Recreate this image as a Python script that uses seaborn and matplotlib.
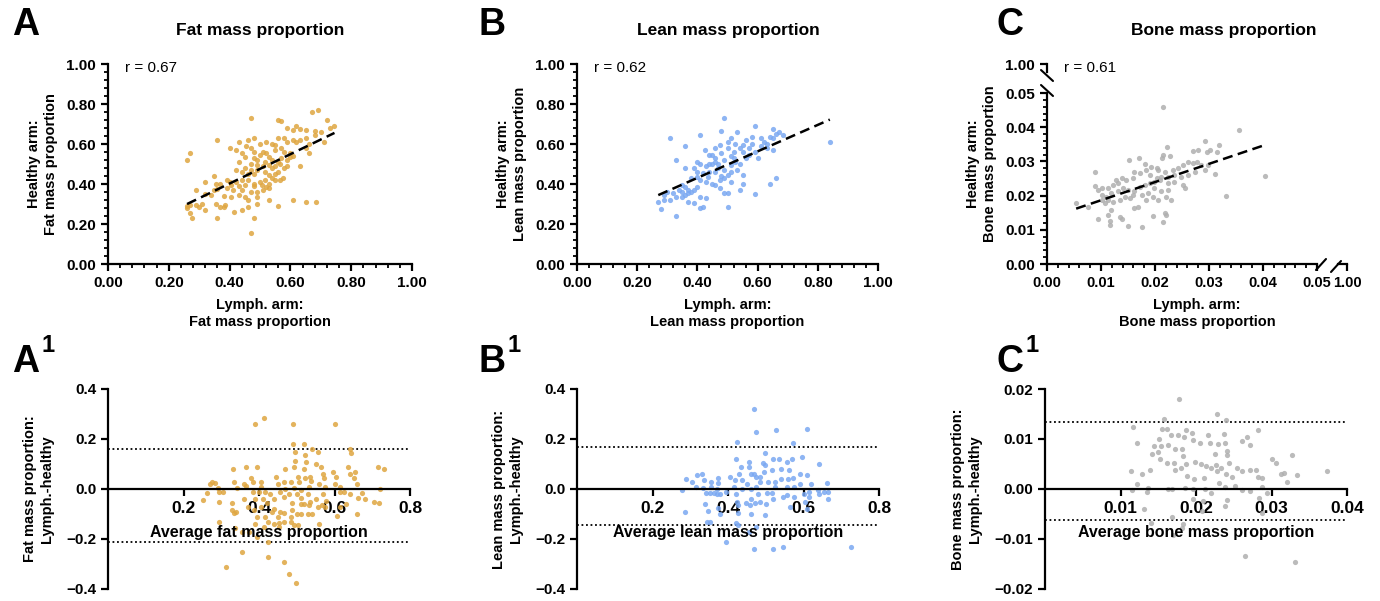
import matplotlib
matplotlib.use('Agg')
import matplotlib.pyplot as plt
from matplotlib.lines import Line2D
from matplotlib.ticker import MultipleLocator, FormatStrFormatter, FuncFormatter
import numpy as np
import pandas as pd
import seaborn as sns

# ---- data (lymph arm vs healthy arm, proportions) ----
fat_lymph = [0.69, 0.67, 0.47, 0.56, 0.57, 0.72, 0.62, 0.745, 0.73, 0.59, 0.61, 0.63, 0.65, 0.68, 0.70,
             0.68, 0.71, 0.43, 0.46, 0.48, 0.36, 0.56, 0.58, 0.59, 0.61, 0.62, 0.63, 0.65, 0.66, 0.65,
             0.54, 0.55, 0.50, 0.52, 0.27, 0.26, 0.40, 0.42, 0.455, 0.47, 0.48, 0.51, 0.52, 0.55, 0.57,
             0.58, 0.60, 0.61, 0.60, 0.57, 0.44, 0.45, 0.50, 0.53, 0.48, 0.49, 0.515, 0.54, 0.59, 0.56,
             0.66, 0.63, 0.43, 0.47, 0.49, 0.51, 0.53, 0.55, 0.565, 0.45, 0.47, 0.49, 0.515, 0.54, 0.56,
             0.58, 0.59, 0.42, 0.44, 0.46, 0.48, 0.53, 0.55, 0.575, 0.54, 0.35, 0.39, 0.40, 0.42, 0.44,
             0.46, 0.48, 0.50, 0.515, 0.53, 0.55, 0.565, 0.37, 0.405, 0.43, 0.45, 0.48, 0.505, 0.52, 0.32,
             0.356, 0.29, 0.35, 0.36, 0.39, 0.41, 0.44, 0.47, 0.49, 0.51, 0.53, 0.32, 0.34, 0.38, 0.405,
             0.43, 0.45, 0.46, 0.49, 0.53, 0.26, 0.26, 0.27, 0.29, 0.31, 0.30, 0.32, 0.356, 0.37, 0.38,
             0.385, 0.415, 0.44, 0.46, 0.49, 0.56, 0.61, 0.65, 0.685, 0.27, 0.275, 0.36, 0.48, 0.47]
fat_healthy = [0.77, 0.76, 0.73, 0.72, 0.715, 0.72, 0.69, 0.69, 0.68, 0.68, 0.67, 0.675, 0.67, 0.665, 0.66,
               0.645, 0.61, 0.61, 0.62, 0.63, 0.62, 0.63, 0.63, 0.61, 0.62, 0.61, 0.62, 0.63, 0.60, 0.58,
               0.60, 0.595, 0.60, 0.61, 0.555, 0.52, 0.58, 0.57, 0.59, 0.58, 0.56, 0.56, 0.553, 0.57, 0.58,
               0.56, 0.553, 0.54, 0.535, 0.53, 0.553, 0.537, 0.545, 0.537, 0.528, 0.52, 0.51, 0.52, 0.52, 0.51,
               0.553, 0.49, 0.51, 0.50, 0.495, 0.49, 0.495, 0.49, 0.50, 0.48, 0.47, 0.47, 0.46, 0.48, 0.46,
               0.48, 0.49, 0.47, 0.46, 0.45, 0.45, 0.445, 0.45, 0.43, 0.43, 0.44, 0.42, 0.41, 0.41, 0.42,
               0.42, 0.40, 0.41, 0.42, 0.40, 0.42, 0.42, 0.40, 0.395, 0.39, 0.395, 0.39, 0.395, 0.385, 0.41,
               0.40, 0.37, 0.37, 0.373, 0.378, 0.37, 0.37, 0.36, 0.36, 0.37, 0.378, 0.35, 0.345, 0.34, 0.335,
               0.345, 0.337, 0.32, 0.337, 0.32, 0.28, 0.29, 0.295, 0.295, 0.30, 0.287, 0.27, 0.30, 0.287, 0.285,
               0.295, 0.26, 0.27, 0.287, 0.30, 0.29, 0.32, 0.31, 0.31, 0.255, 0.23, 0.228, 0.228, 0.157]

lean_lymph = [0.49, 0.59, 0.31, 0.41, 0.48, 0.53, 0.65, 0.67, 0.685, 0.84, 0.51, 0.58, 0.56, 0.61, 0.64,
              0.65, 0.63, 0.58, 0.55, 0.525, 0.50, 0.475, 0.36, 0.46, 0.425, 0.44, 0.45, 0.46, 0.48, 0.50,
              0.52, 0.54, 0.55, 0.57, 0.59, 0.60, 0.65, 0.56, 0.33, 0.40, 0.41, 0.43, 0.45, 0.47, 0.49,
              0.51, 0.525, 0.54, 0.36, 0.39, 0.40, 0.42, 0.44, 0.46, 0.49, 0.50, 0.51, 0.55, 0.38, 0.40,
              0.41, 0.435, 0.45, 0.475, 0.49, 0.51, 0.55, 0.66, 0.64, 0.35, 0.36, 0.37, 0.38, 0.34, 0.32,
              0.30, 0.29, 0.33, 0.35, 0.29, 0.27, 0.37, 0.39, 0.41, 0.43, 0.50, 0.49, 0.54, 0.59, 0.46,
              0.475, 0.28, 0.33, 0.41, 0.42, 0.50, 0.36, 0.31, 0.39, 0.40, 0.47, 0.52, 0.44, 0.57, 0.62,
              0.66, 0.35, 0.37, 0.48, 0.53, 0.43, 0.63, 0.61, 0.46, 0.51]
lean_healthy = [0.73, 0.69, 0.63, 0.645, 0.665, 0.66, 0.675, 0.66, 0.645, 0.61, 0.63, 0.637, 0.62, 0.63, 0.637,
                0.63, 0.60, 0.60, 0.595, 0.60, 0.61, 0.595, 0.59, 0.58, 0.57, 0.545, 0.545, 0.53, 0.555, 0.58,
                0.56, 0.58, 0.56, 0.545, 0.56, 0.53, 0.57, 0.53, 0.52, 0.51, 0.50, 0.49, 0.50, 0.50, 0.52,
                0.495, 0.51, 0.50, 0.48, 0.48, 0.46, 0.455, 0.46, 0.46, 0.47, 0.445, 0.46, 0.445, 0.43, 0.437,
                0.42, 0.437, 0.40, 0.42, 0.428, 0.41, 0.40, 0.43, 0.40, 0.395, 0.385, 0.37, 0.36, 0.37, 0.355,
                0.362, 0.345, 0.335, 0.335, 0.32, 0.31, 0.31, 0.303, 0.335, 0.33, 0.355, 0.355, 0.37, 0.35, 0.395,
                0.378, 0.275, 0.24, 0.28, 0.287, 0.287, 0.345, 0.32, 0.37, 0.387, 0.48, 0.53, 0.50, 0.58, 0.61,
                0.65, 0.36, 0.355, 0.44, 0.47, 0.41, 0.58, 0.59, 0.51, 0.54]

bone_lymph = [0.0214, 0.0355, 0.0403, 0.0292, 0.0319, 0.0311, 0.0332, 0.0223, 0.0215, 0.0227, 0.0213,
              0.0270, 0.0280, 0.0301, 0.0297, 0.0314, 0.0170, 0.0152, 0.0181, 0.0193, 0.0203, 0.0206,
              0.0218, 0.0233, 0.0243, 0.0252, 0.0261, 0.0270, 0.0277, 0.0286, 0.0298, 0.0292, 0.0274,
              0.0261, 0.0249, 0.0236, 0.0224, 0.0212, 0.0203, 0.0190, 0.0184, 0.0172, 0.0162, 0.0159,
              0.0147, 0.0138, 0.0128, 0.0132, 0.0122, 0.0113, 0.0101, 0.0088, 0.0088, 0.0095, 0.0101,
              0.0110, 0.0119, 0.0132, 0.0141, 0.0150, 0.0162, 0.0172, 0.0181, 0.0190, 0.0199, 0.0209,
              0.0224, 0.0236, 0.0252, 0.0255, 0.0224, 0.0212, 0.0199, 0.0187, 0.0175, 0.0159, 0.0153,
              0.0144, 0.0135, 0.0122, 0.0113, 0.0107, 0.0054, 0.0076, 0.0095, 0.0113, 0.0119, 0.0135,
              0.0138, 0.0116, 0.0116, 0.0150, 0.0175, 0.0162, 0.0168, 0.0184, 0.0196, 0.0206, 0.0221,
              0.0230, 0.0196, 0.0218, 0.0221, 0.0215, 0.0101]
bone_healthy = [0.0458, 0.0392, 0.0258, 0.0361, 0.0348, 0.0263, 0.0198, 0.0341, 0.0319, 0.0316, 0.0309,
                0.0331, 0.0333, 0.0333, 0.0328, 0.0328, 0.0309, 0.0303, 0.0292, 0.0285, 0.0280, 0.0275,
                0.0270, 0.0275, 0.0280, 0.0290, 0.0299, 0.0294, 0.0299, 0.0290, 0.0290, 0.0275, 0.0270,
                0.0260, 0.0255, 0.0260, 0.0255, 0.0255, 0.0251, 0.0260, 0.0275, 0.0265, 0.0270, 0.0251,
                0.0246, 0.0251, 0.0246, 0.0236, 0.0231, 0.0221, 0.0221, 0.0268, 0.0228, 0.0216, 0.0202,
                0.0197, 0.0207, 0.0212, 0.0221, 0.0216, 0.0212, 0.0226, 0.0231, 0.0236, 0.0241, 0.0246,
                0.0236, 0.0241, 0.0231, 0.0221, 0.0216, 0.0212, 0.0221, 0.0207, 0.0202, 0.0202, 0.0192,
                0.0197, 0.0187, 0.0182, 0.0187, 0.0177, 0.0179, 0.0168, 0.0132, 0.0143, 0.0158, 0.0138,
                0.0133, 0.0127, 0.0114, 0.0111, 0.0107, 0.0163, 0.0168, 0.0187, 0.0197, 0.0187, 0.0197,
                0.0187, 0.0140, 0.0148, 0.0143, 0.0124, 0.0187]

r_values = ['0.67', '0.62', '0.61']
titles = ['Fat mass proportion', 'Lean mass proportion', 'Bone mass proportion']
names = ['Fat', 'Lean', 'Bone']
avg_labels = ['Average fat mass proportion', 'Average lean mass proportion', 'Average bone mass proportion']
loa_upper = [0.16, 0.17, 0.0134]
loa_lower = [-0.21, -0.145, -0.0062]
colors = ['#DFA640', '#7AA8F2', '#AFAFAF']

W, H = 1380, 601

sns.set_style("ticks")
plt.rcParams['font.family'] = ['Liberation Sans', 'DejaVu Sans']
plt.rcParams['font.weight'] = 'bold'
plt.rcParams['axes.labelweight'] = 'bold'
plt.rcParams['text.color'] = 'black'
plt.rcParams['axes.labelcolor'] = 'black'
plt.rcParams['axes.linewidth'] = 1.6
plt.rcParams['xtick.major.width'] = 1.6
plt.rcParams['ytick.major.width'] = 1.6
plt.rcParams['xtick.minor.width'] = 1.3
plt.rcParams['ytick.minor.width'] = 1.3
plt.rcParams['xtick.major.size'] = 5
plt.rcParams['ytick.major.size'] = 5
plt.rcParams['xtick.minor.size'] = 3
plt.rcParams['ytick.minor.size'] = 3
plt.rcParams['xtick.labelsize'] = 11
plt.rcParams['ytick.labelsize'] = 11
plt.rcParams['axes.labelsize'] = 10.5
plt.rcParams['xtick.color'] = 'black'
plt.rcParams['ytick.color'] = 'black'
plt.rcParams['axes.edgecolor'] = 'black'


def box(x0, y0, x1, y1):
    # pixel box (origin top-left) -> figure rect
    return [x0 / W, 1 - y1 / H, (x1 - x0) / W, (y1 - y0) / H]


def fpt(x, y):
    return x / W, 1 - y / H


def minus(fmt):
    return FuncFormatter(lambda v, p: (fmt % v).replace('-', '\u2212'))


fig = plt.figure(figsize=(W / 100, H / 100), dpi=100)

pairs = [(fat_lymph, fat_healthy), (lean_lymph, lean_healthy), (bone_lymph, bone_healthy)]
top_boxes = [box(108, 64, 412, 264), box(577, 64, 878, 264), box(1047, 93, 1317, 264)]
bot_boxes = [box(108, 389, 410, 589), box(577, 389, 879, 589), box(1045, 389, 1347, 589)]
letter_x = [26, 492, 1010]
title_x = [260, 728, 1224]

for i, (lx, hy) in enumerate(pairs):
    df = pd.DataFrame({'lymph': lx, 'healthy': hy})
    df['average'] = (df['lymph'] + df['healthy']) / 2
    df['difference'] = df['healthy'] - df['lymph']

    # ---- correlation panel ----
    ax = fig.add_axes(top_boxes[i])
    sns.scatterplot(data=df, x='lymph', y='healthy', ax=ax, color=colors[i], s=14,
                    alpha=0.85, linewidth=0, zorder=3)
    sns.regplot(data=df, x='lymph', y='healthy', ax=ax, scatter=False, ci=None, truncate=True,
                line_kws=dict(color='black', lw=1.8, ls=(0, (4, 2.2)), zorder=4))
    sns.despine(ax=ax)
    if i < 2:
        ax.set_xlim(0, 1)
        ax.set_ylim(0, 1)
        ax.set_xticks([0, 0.2, 0.4, 0.6, 0.8, 1.0])
        ax.set_yticks([0, 0.2, 0.4, 0.6, 0.8, 1.0])
        ax.xaxis.set_minor_locator(MultipleLocator(0.04))
        ax.yaxis.set_minor_locator(MultipleLocator(0.04))
    else:
        ax.set_xlim(0, 0.05)
        ax.set_ylim(0, 0.05)
        ax.set_xticks([0, 0.01, 0.02, 0.03, 0.04, 0.05])
        ax.set_yticks([0, 0.01, 0.02, 0.03, 0.04, 0.05])
        ax.xaxis.set_minor_locator(MultipleLocator(0.002))
        ax.yaxis.set_minor_locator(MultipleLocator(0.002))
        ax.tick_params(axis='x', labelsize=10.5)
    ax.xaxis.set_major_formatter(FormatStrFormatter('%.2f'))
    ax.yaxis.set_major_formatter(FormatStrFormatter('%.2f'))
    ax.set_xlabel('Lymph. arm:\n%s mass proportion' % names[i], labelpad=6, linespacing=1.25)
    ax.set_ylabel('Healthy arm:\n%s mass proportion' % names[i], labelpad=6, linespacing=1.25)
    if i == 2:
        ax.xaxis.label.set_x((1197 - 1047) / 270)
        ax.yaxis.label.set_y((264 - 164) / 171)

    x0 = [108, 577, 1047][i]
    fig.text(*fpt(x0 + 17, 68), 'r = %s' % r_values[i], fontsize=11, weight='normal',
             ha='left', va='center')
    fig.text(*fpt(title_x[i], 30), titles[i], fontsize=12.5, weight='bold', ha='center', va='center')
    fig.text(*fpt(letter_x[i], 25), 'ABC'[i], fontsize=27, weight='bold', ha='center', va='center')

    # ---- Bland-Altman panel ----
    bx = fig.add_axes(bot_boxes[i])
    sns.scatterplot(data=df, x='average', y='difference', ax=bx, color=colors[i], s=14,
                    alpha=0.85, linewidth=0, zorder=3)
    bx.axhline(loa_upper[i], color='black', lw=1.3, ls=(0, (1, 1.5)), zorder=2)
    bx.axhline(loa_lower[i], color='black', lw=1.3, ls=(0, (1, 1.5)), zorder=2)
    sns.despine(ax=bx)
    bx.spines['bottom'].set_position(('data', 0))
    bx.spines['bottom'].set_zorder(5)
    if i < 2:
        bx.set_xlim(0, 0.8)
        bx.set_ylim(-0.4, 0.4)
        bx.set_xticks([0.2, 0.4, 0.6, 0.8])
        bx.set_yticks([-0.4, -0.2, 0.0, 0.2, 0.4])
        bx.xaxis.set_major_formatter(FormatStrFormatter('%.1f'))
        bx.yaxis.set_major_formatter(minus('%.1f'))
    else:
        bx.set_xlim(0, 0.04)
        bx.set_ylim(-0.02, 0.02)
        bx.set_xticks([0.01, 0.02, 0.03, 0.04])
        bx.set_yticks([-0.02, -0.01, 0.0, 0.01, 0.02])
        bx.xaxis.set_major_formatter(FormatStrFormatter('%.2f'))
        bx.yaxis.set_major_formatter(minus('%.2f'))
    bx.tick_params(axis='x', labelsize=12.5)
    bx.set_xlabel('')
    bx.set_ylabel('%s mass proportion:\nLymph.-healthy' % names[i], labelpad=9, linespacing=1.25)
    bx.text(0.5, (589 - 533) / 200, avg_labels[i], transform=bx.transAxes, fontsize=11.5,
            weight='bold', ha='center', va='center', zorder=6)
    fig.text(*fpt(letter_x[i], 362), 'ABC'[i], fontsize=27, weight='bold', ha='center', va='center')
    fig.text(*fpt(letter_x[i] + 22, 346), '1', fontsize=17, weight='bold', ha='center', va='center')

# ---- axis breaks of the bone panel ----
cx = fig.add_axes(box(1338, 262, 1347, 264))
cx.set_xlim(0.9, 1.0)
cx.set_xticks([1.0])
cx.xaxis.set_major_formatter(FormatStrFormatter('%.2f'))
cx.tick_params(axis='x', labelsize=10.5)
cx.set_yticks([])
for s in ['left', 'right', 'top']:
    cx.spines[s].set_visible(False)
cx.patch.set_alpha(0)

cy = fig.add_axes(box(1047, 64, 1049, 72))
cy.set_ylim(0.9, 1.0)
cy.set_yticks([1.0])
cy.yaxis.set_major_formatter(FormatStrFormatter('%.2f'))
cy.set_xticks([])
for s in ['bottom', 'right', 'top']:
    cy.spines[s].set_visible(False)
cy.patch.set_alpha(0)

for (xa, ya), (xb, yb) in [((1316, 270), (1326, 259)), ((1331, 272), (1341, 261)),
                           ((1041, 70), (1053, 81)), ((1041, 85), (1053, 96))]:
    fig.add_artist(Line2D([xa / W, xb / W], [1 - ya / H, 1 - yb / H], color='black', lw=1.5,
                          transform=fig.transFigure))

fig.savefig('out.png', dpi=100)
